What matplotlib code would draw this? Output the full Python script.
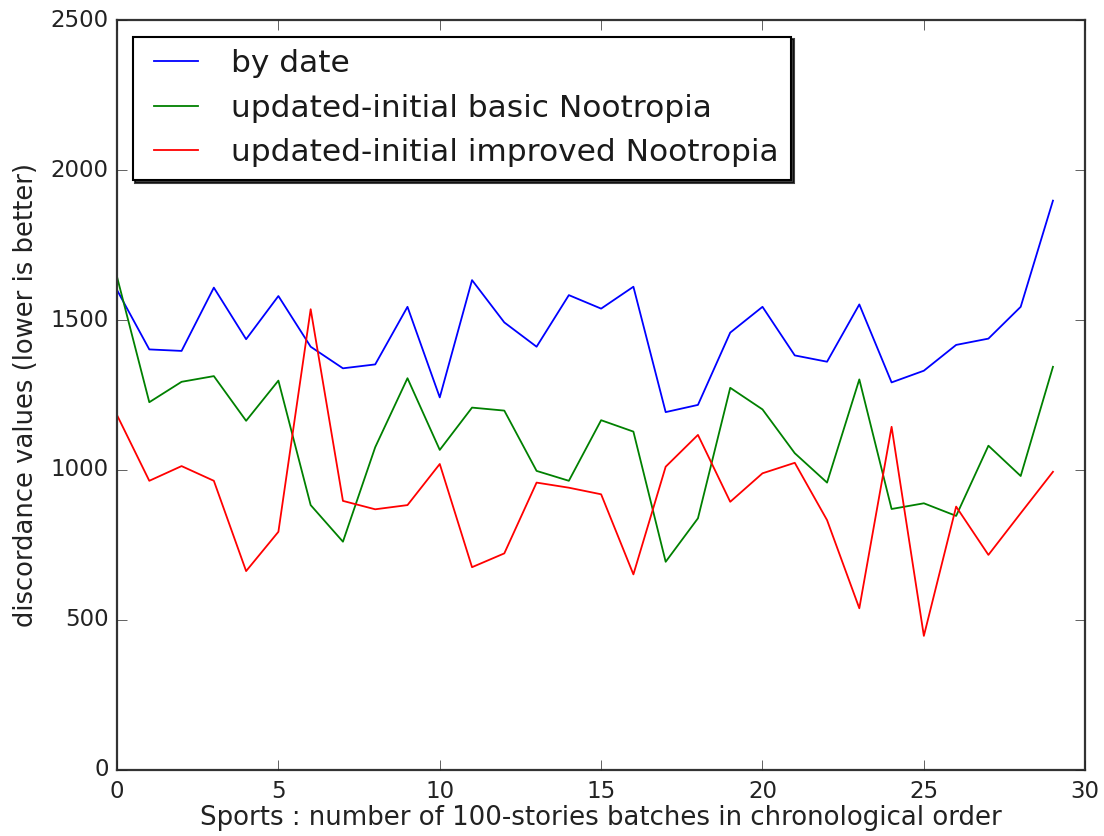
import numpy as np
import matplotlib
matplotlib.use("Agg")
import matplotlib.pyplot as plt

plt.style.use("classic")

# batch index and discordance per ordering
batches = np.arange(30)
by_date = [1600, 1402, 1397, 1608, 1436, 1580, 1411, 1339, 1352, 1544,
           1242, 1633, 1492, 1411, 1583, 1538, 1611, 1193, 1217, 1458,
           1544, 1382, 1361, 1552, 1292, 1331, 1417, 1438, 1544, 1898]
basic = [1644, 1226, 1294, 1313, 1164, 1298, 883, 761, 1076, 1306,
         1067, 1208, 1198, 997, 964, 1166, 1128, 694, 839, 1274,
         1202, 1056, 958, 1302, 870, 889, 847, 1081, 980, 1344]
improved = [1183, 964, 1013, 964, 663, 794, 1536, 897, 869, 883,
            1020, 676, 722, 958, 941, 919, 652, 1011, 1117, 894,
            989, 1024, 833, 539, 1144, 447, 878, 717, 856, 994]

labels = ["by date",
          "updated-initial basic Nootropia",
          "updated-initial improved Nootropia"]

fig = plt.figure(figsize=(11.04, 8.36), dpi=100)
ax = fig.add_axes([0.106, 0.079, 0.877, 0.897])

ax.plot(batches, by_date, color="b", lw=1.3, label=labels[0])
ax.plot(batches, basic, color="g", lw=1.3, label=labels[1])
ax.plot(batches, improved, color="r", lw=1.3, label=labels[2])

ax.set_xlim(0, 30)
ax.set_ylim(0, 2500)
ax.set_xticks(range(0, 31, 5))
ax.set_yticks(range(0, 2501, 500))
ax.tick_params(labelsize=16.5, length=7, colors="#222222")
ax.tick_params(axis="y", pad=6)
ax.tick_params(axis="x", pad=7)
for sp in ax.spines.values():
    sp.set_linewidth(1.6)
    sp.set_color("#333333")

ax.set_xlabel("Sports : number of 100-stories batches in chronological order",
              fontsize=18.7, color="#222222", labelpad=2)
ax.set_ylabel("discordance values (lower is better)", fontsize=18.6,
              color="#222222", labelpad=8)

leg = ax.legend(loc="upper left", fontsize=22.5, fancybox=False,
                shadow={"color": "k", "alpha": 0.75},
                bbox_to_anchor=(0.016, 0.978), borderaxespad=0.0,
                handletextpad=0.75, labelspacing=0.5)
leg.get_frame().set_linewidth(1.5)
for t in leg.get_texts():
    t.set_color("#1a1a1a")

fig.savefig("out.png", dpi=100)
